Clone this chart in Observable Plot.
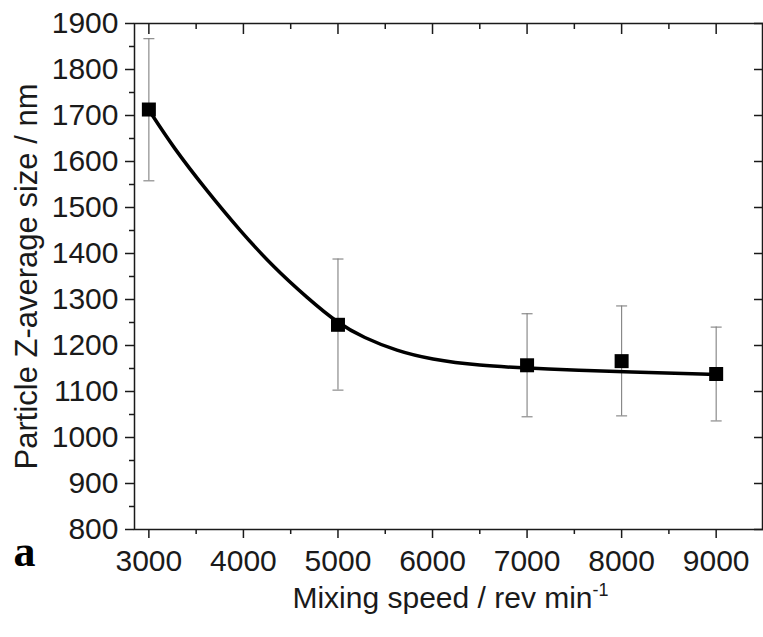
<!DOCTYPE html>
<html>
<head>
<meta charset="utf-8">
<script src="https://cdn.jsdelivr.net/npm/d3@7"></script>
<script src="https://cdn.jsdelivr.net/npm/@observablehq/plot@0.6"></script>
<style>
  html, body { margin: 0; padding: 0; background: #fff; }
</style>
</head>
<body>
<div id="chart"></div>
<script>
// Measured data points
const speeds = [3000, 5000, 7000, 8000, 9000];
const zAvg = [1713, 1245, 1157, 1166, 1138];
const errLow = [1558, 1103, 1045, 1047, 1036];
const errHigh = [1867, 1388, 1269, 1286, 1240];

// Fitted curve
const fitX = [3000, 3260, 3614, 3966, 4319, 4672, 5000, 5271, 5624, 5976, 6506, 7000, 7564, 8022, 9000];
const fitY = [1712, 1630, 1536, 1449, 1370, 1304, 1248, 1217, 1188, 1170, 1156, 1151, 1146, 1143, 1137];

// Tick values
const xMajor = [3000, 4000, 5000, 6000, 7000, 8000, 9000];
const xMinor = [3500, 4500, 5500, 6500, 7500, 8500];
const yMajor = [800, 900, 1000, 1100, 1200, 1300, 1400, 1500, 1600, 1700, 1800, 1900];
const yMinor = [850, 950, 1050, 1150, 1250, 1350, 1450, 1550, 1650, 1750, 1850];

const xTitle = "Mixing speed / rev min";
const xTitleSup = "-1";
const yTitle = "Particle Z-average size / nm";
const panelLabel = "a";

const points = speeds.map((s, i) => ({x: s, y: zAvg[i], lo: errLow[i], hi: errHigh[i]}));
const fit = fitX.map((x, i) => ({x, y: fitY[i]}));

const cap = {draw(ctx) { ctx.moveTo(-5.5, 0); ctx.lineTo(5.5, 0); }};
const ink = "#1a1a1a";

const svg = Plot.plot({
  width: 763,
  height: 637,
  marginLeft: 134,
  marginRight: 1,
  marginTop: 23,
  marginBottom: 108,
  style: {fontFamily: "'Liberation Sans', Arial, sans-serif", fontSize: "30px", background: "#fff", color: ink},
  x: {domain: [2848, 9490]},
  y: {domain: [800, 1900]},
  marks: [
    // axes: bottom
    Plot.axisX({anchor: "bottom", ticks: xMajor, tickSize: 9, tickPadding: 11, tickFormat: d => String(d), label: null, strokeWidth: 1.5}),
    Plot.axisX({anchor: "bottom", ticks: xMinor, tickSize: 5, tickFormat: () => "", label: null, strokeWidth: 1.5}),
    // top (inward)
    Plot.axisX({anchor: "top", ticks: xMajor, tickSize: -10, tickFormat: () => "", label: null, strokeWidth: 1.5}),
    Plot.axisX({anchor: "top", ticks: xMinor, tickSize: -5, tickFormat: () => "", label: null, strokeWidth: 1.5}),
    // left
    Plot.axisY({anchor: "left", ticks: yMajor, tickSize: 9, tickPadding: 7, tickFormat: d => String(d), label: null, strokeWidth: 1.5}),
    Plot.axisY({anchor: "left", ticks: yMinor, tickSize: 5, tickFormat: () => "", label: null, strokeWidth: 1.5}),
    // right (inward)
    Plot.axisY({anchor: "right", ticks: yMajor, tickSize: -9, tickFormat: () => "", label: null, strokeWidth: 1.5}),
    Plot.frame({stroke: ink, strokeWidth: 1.5}),
    // error bars
    Plot.ruleX(points, {x: "x", y1: "lo", y2: "hi", stroke: "#808080", strokeWidth: 1.1}),
    Plot.dot(points, {x: "x", y: "lo", symbol: cap, stroke: "#808080", strokeWidth: 1.1, fill: "none"}),
    Plot.dot(points, {x: "x", y: "hi", symbol: cap, stroke: "#808080", strokeWidth: 1.1, fill: "none"}),
    // fitted curve
    Plot.line(fit, {x: "x", y: "y", curve: "basis", stroke: "#000", strokeWidth: 3.5}),
    // squares
    Plot.dot(points, {x: "x", y: "y", symbol: "square", r: 7.9, fill: "#000", stroke: "none"}),
    // titles
    Plot.text([xTitle], {frameAnchor: "bottom", dy: 78, dx: 2, text: d => d, fontSize: 30, fill: ink}),
    Plot.text([yTitle], {frameAnchor: "left", textAnchor: "middle", dx: -107, dy: 0, rotate: -90, text: d => d, fontSize: 31, fill: ink}),
    Plot.text([panelLabel], {frameAnchor: "bottom-left", textAnchor: "start", dx: -121, dy: 36, text: d => d, fontSize: 44, fontWeight: "bold", fontFamily: "'Liberation Serif', 'Times New Roman', serif", fill: "#000"})
  ]
});

// add superscript to x title
for (const t of svg.querySelectorAll("text")) {
  if (t.textContent === xTitle) {
    const ts = document.createElementNS("http://www.w3.org/2000/svg", "tspan");
    ts.setAttribute("dy", "-12");
    ts.setAttribute("font-size", "18");
    ts.textContent = xTitleSup;
    t.appendChild(ts);
  }
}

document.getElementById("chart").appendChild(svg);
</script>
</body>
</html>
